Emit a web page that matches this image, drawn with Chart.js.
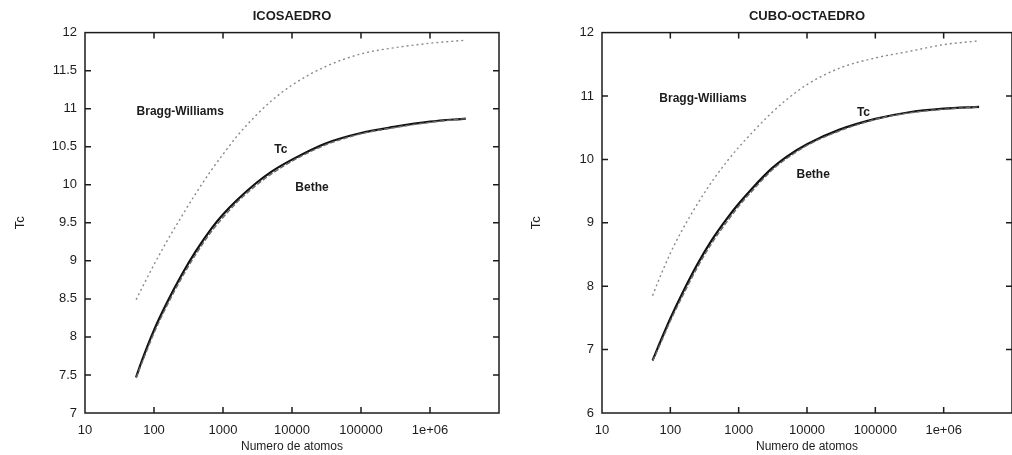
<!DOCTYPE html>
<html>
<head>
<meta charset="utf-8">
<script src="https://cdn.jsdelivr.net/npm/chart.js@4.4.1/dist/chart.umd.min.js"></script>
<style>
  html, body { margin: 0; padding: 0; background: #fff; overflow: hidden; width: 1012px; height: 455px; }
  .panel { position: absolute; top: 0; width: 510px; height: 455px; }
  #left { left: 0; }
  #right { left: 512px; }
</style>
</head>
<body>
<div class="panel" id="left"><canvas id="icoChart" width="510" height="455"></canvas></div>
<div class="panel" id="right"><canvas id="cuboChart" width="510" height="455"></canvas></div>
<script>
// numero de atomos (eje x, log)
const atoms = [55, 65, 100, 150, 250, 400, 700, 1000, 1600, 3000, 5000, 10000, 30000, 100000, 300000, 1000000, 3300000];

// ICOSAEDRO
const tcIco    = [7.47, 7.66, 8.09, 8.43, 8.81, 9.12, 9.44, 9.61, 9.80, 10.02, 10.17, 10.33, 10.54, 10.68, 10.76, 10.83, 10.87];
const betheIco = [7.46, 7.63, 8.05, 8.39, 8.77, 9.08, 9.40, 9.57, 9.77, 9.99, 10.14, 10.31, 10.52, 10.67, 10.75, 10.82, 10.87];
const bwIco    = [8.49, 8.62, 8.95, 9.24, 9.58, 9.88, 10.21, 10.40, 10.64, 10.91, 11.10, 11.31, 11.55, 11.72, 11.80, 11.86, 11.90];

// CUBO-OCTAEDRO
const tcCubo    = [6.83, 7.02, 7.49, 7.89, 8.35, 8.72, 9.09, 9.30, 9.55, 9.85, 10.04, 10.24, 10.47, 10.64, 10.74, 10.80, 10.83];
const betheCubo = [6.82, 6.99, 7.45, 7.84, 8.30, 8.67, 9.04, 9.26, 9.51, 9.82, 10.01, 10.22, 10.45, 10.63, 10.73, 10.79, 10.83];
const bwCubo    = [7.85, 8.05, 8.52, 8.89, 9.30, 9.64, 9.99, 10.19, 10.43, 10.73, 10.94, 11.18, 11.44, 11.60, 11.70, 11.81, 11.87];

// ticks
const xTicks = [10, 100, 1000, 10000, 100000, 1000000, 10000000];
const xTickLabels = ["10", "100", "1000", "10000", "100000", "1e+06", ""];
const yTicksIco = [7, 7.5, 8, 8.5, 9, 9.5, 10, 10.5, 11, 11.5, 12];
const yTicksCubo = [6, 7, 8, 9, 10, 11, 12];

// etiquetas dentro del grafico (coordenadas de datos)
const labelsIco = [
  { text: "Bragg-Williams", x: 240, y: 10.96 },
  { text: "Tc", x: 6900, y: 10.46 },
  { text: "Bethe", x: 19500, y: 9.96 },
];
const labelsCubo = [
  { text: "Bragg-Williams", x: 300, y: 10.96 },
  { text: "Tc", x: 67000, y: 10.74 },
  { text: "Bethe", x: 12300, y: 9.76 },
];

const FONT = "'Liberation Sans', Arial, sans-serif";
const INK = "#1c1c1c";

// marco con ticks hacia dentro + etiquetas
const framePlugin = {
  id: "frame",
  afterDatasetsDraw(chart, args, opts) {
    const { ctx, chartArea: a, scales } = chart;
    const x = scales.x, y = scales.y;
    ctx.save();
    ctx.strokeStyle = INK;
    ctx.lineWidth = 1.5;
    ctx.strokeRect(a.left, a.top, a.right - a.left, a.bottom - a.top);
    ctx.beginPath();
    x.ticks.forEach((t) => {
      const px = x.getPixelForValue(t.value);
      if (px <= a.left + 1 || px >= a.right - 1) return;
      ctx.moveTo(px, a.bottom); ctx.lineTo(px, a.bottom - 6);
      ctx.moveTo(px, a.top); ctx.lineTo(px, a.top + 6);
    });
    y.ticks.forEach((t) => {
      const py = y.getPixelForValue(t.value);
      if (py <= a.top + 1 || py >= a.bottom - 1) return;
      ctx.moveTo(a.left, py); ctx.lineTo(a.left + 6, py);
      ctx.moveTo(a.right, py); ctx.lineTo(a.right - 6, py);
    });
    ctx.stroke();
    ctx.fillStyle = INK;
    ctx.font = "bold 12px " + FONT;
    ctx.textAlign = "center";
    ctx.textBaseline = "middle";
    (opts.labels || []).forEach((l) => {
      ctx.fillText(l.text, x.getPixelForValue(l.x), y.getPixelForValue(l.y));
    });
    ctx.restore();
  },
};

function makeChart(id, title, tc, bethe, bw, yTicks, labels, yWidth, yTitlePad, padRight) {
  const ctx = document.getElementById(id);
  const toPts = (arr) => arr.map((v, i) => ({ x: atoms[i], y: v }));
  const data = {
    datasets: [
      { label: "Bragg-Williams", data: toPts(bw), borderColor: "#8a8a8a", borderWidth: 1.4, borderDash: [2, 3] },
      { label: "Bethe", data: toPts(bethe), borderColor: "#6a6a6a", borderWidth: 1.4, borderDash: [5, 2] },
      { label: "Tc", data: toPts(tc), borderColor: "#111", borderWidth: 2.2 },
    ],
  };
  const config = {
    type: "line",
    data: data,
    options: {
      responsive: false,
      animation: false,
      events: [],
      elements: { point: { radius: 0 }, line: { cubicInterpolationMode: "monotone" } },
      layout: { padding: { left: 0, right: padRight, top: 0, bottom: 0 } },
      plugins: {
        legend: { display: false },
        tooltip: { enabled: false },
        title: {
          display: true,
          text: title,
          fullSize: false,
          color: INK,
          font: { family: FONT, size: 13 },
          padding: { top: 9, bottom: 8 },
        },
        frame: { labels: labels },
      },
      scales: {
        x: {
          type: "logarithmic",
          min: 10,
          max: 10000000,
          afterBuildTicks: (s) => { s.ticks = xTicks.map((v) => ({ value: v })); },
          afterFit: (s) => { s.height = 42; },
          grid: { display: false, drawTicks: false },
          border: { display: false },
          ticks: {
            autoSkip: false,
            maxRotation: 0,
            padding: 10,
            color: INK,
            font: { family: FONT, size: 13 },
            callback: (v) => { const i = xTicks.indexOf(v); return i >= 0 ? xTickLabels[i] : ""; },
          },
          title: {
            display: true,
            text: "Numero de atomos",
            color: INK,
            font: { family: FONT, size: 12 },
            padding: { top: 0, bottom: 1 },
          },
        },
        y: {
          min: yTicks[0],
          max: yTicks[yTicks.length - 1],
          afterBuildTicks: (s) => { s.ticks = yTicks.map((v) => ({ value: v })); },
          afterFit: (s) => { s.width = yWidth; },
          grid: { display: false, drawTicks: false },
          border: { display: false },
          ticks: {
            autoSkip: false,
            padding: 8,
            color: INK,
            font: { family: FONT, size: 13 },
            callback: (v) => String(v),
          },
          title: {
            display: true,
            text: "Tc",
            color: INK,
            font: { family: FONT, size: 13 },
            padding: { top: yTitlePad, bottom: 0 },
          },
        },
      },
    },
    plugins: [framePlugin],
  };
  return new Chart(ctx, config);
}

makeChart("icoChart", "ICOSAEDRO", tcIco, betheIco, bwIco, yTicksIco, labelsIco, 85, 13, 11);
makeChart("cuboChart", "CUBO-OCTAEDRO", tcCubo, betheCubo, bwCubo, yTicksCubo, labelsCubo, 90, 17, 6);
</script>
</body>
</html>
